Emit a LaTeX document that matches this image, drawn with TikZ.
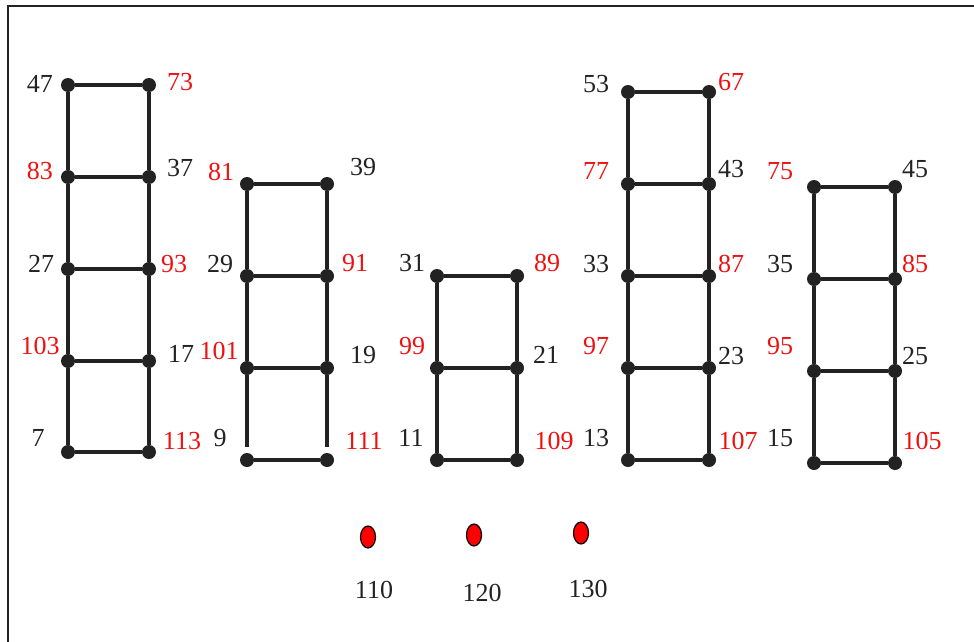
\documentclass[tikz,border=0pt]{standalone}
\usepackage{fontspec}
\setmainfont{Liberation Serif}
\usetikzlibrary{shapes.geometric}
\definecolor{ink}{HTML}{222222}
\definecolor{rtxt}{HTML}{EE1111}
\begin{document}
\begin{tikzpicture}[x=1pt,y=-1pt,
  dot/.style={circle,fill=ink,inner sep=0pt,minimum size=14pt},
  edge/.style={line width=3.2pt,draw=ink},
  lbl/.style={font=\fontsize{26}{26}\selectfont,text=ink,inner sep=0pt},
  rlbl/.style={lbl,text=rtxt},
  pt/.style={ellipse,draw=black,line width=1.2pt,fill=red,minimum width=15pt,minimum height=22pt,inner sep=0pt}]
\useasboundingbox (0,0) rectangle (974,642);
\draw[line width=2pt,ink] (8,642) -- (8,6) -- (974,6);

% ---------- ladder 1 ----------
\node[dot] (a1) at (68,85) {};  \node[dot] (b1) at (149,85) {};
\node[dot] (a2) at (68,177) {}; \node[dot] (b2) at (149,177) {};
\node[dot] (a3) at (68,269) {}; \node[dot] (b3) at (149,269) {};
\node[dot] (a4) at (68,361) {}; \node[dot] (b4) at (149,361) {};
\node[dot] (a5) at (68,452) {}; \node[dot] (b5) at (149,452) {};
\draw[edge] (a1) -- (a2) -- (a3) -- (a4) -- (a5);
\draw[edge] (b1) -- (b2) -- (b3) -- (b4) -- (b5);
\draw[edge] (a1) -- (b1); \draw[edge] (a2) -- (b2); \draw[edge] (a3) -- (b3);
\draw[edge] (a4) -- (b4); \draw[edge] (a5) -- (b5);
\node[lbl]  (t47)  at (40,84)  {47};
\node[rlbl] (t73)  at (180,82) {73};
\node[rlbl] (t83)  at (40,171) {83};
\node[lbl]  (t37)  at (180,168) {37};
\node[lbl]  (t27)  at (41,264) {27};
\node[rlbl] (t93)  at (174,264) {93};
\node[rlbl] (t103) at (40,346) {103};
\node[lbl]  (t17)  at (181,354) {17};
\node[lbl]  (t7)   at (38,438) {7};
\node[rlbl] (t113) at (182,441) {113};

% ---------- ladder 2 ----------
\node[dot] (c1) at (247,184) {}; \node[dot] (d1) at (327,184) {};
\node[dot] (c2) at (247,276) {}; \node[dot] (d2) at (327,276) {};
\node[dot] (c3) at (247,368) {}; \node[dot] (d3) at (327,368) {};
\node[dot] (c4) at (247,460) {}; \node[dot] (d4) at (327,460) {};
\coordinate (cg) at (247,447);
\coordinate (dg) at (327,447);
\draw[edge] (c1) -- (c2) -- (c3) -- (cg);
\draw[edge] (d1) -- (d2) -- (d3) -- (dg);
\draw[edge] (c1) -- (d1); \draw[edge] (c2) -- (d2);
\draw[edge] (c3) -- (d3); \draw[edge] (c4) -- (d4);
\node[rlbl] (t81)  at (221,172) {81};
\node[lbl]  (t39)  at (363,167) {39};
\node[lbl]  (t29)  at (220,264) {29};
\node[rlbl] (t91)  at (355,263) {91};
\node[rlbl] (t101) at (219,351) {101};
\node[lbl]  (t19)  at (363,355) {19};
\node[lbl]  (t9)   at (220,438) {9};
\node[rlbl] (t111) at (364,441) {111};

% ---------- ladder 3 ----------
\node[dot] (e1) at (437,276) {}; \node[dot] (f1) at (517,276) {};
\node[dot] (e2) at (437,368) {}; \node[dot] (f2) at (517,368) {};
\node[dot] (e3) at (437,460) {}; \node[dot] (f3) at (517,460) {};
\draw[edge] (e1) -- (e2) -- (e3);
\draw[edge] (f1) -- (f2) -- (f3);
\draw[edge] (e1) -- (f1); \draw[edge] (e2) -- (f2); \draw[edge] (e3) -- (f3);
\node[lbl]  (t31)  at (412,263) {31};
\node[rlbl] (t89)  at (547,263) {89};
\node[rlbl] (t99)  at (412,346) {99};
\node[lbl]  (t21)  at (546,355) {21};
\node[lbl]  (t11)  at (411,438) {11};
\node[rlbl] (t109) at (554,441) {109};

% ---------- ladder 4 ----------
\node[dot] (g1) at (628,92) {};  \node[dot] (h1) at (709,92) {};
\node[dot] (g2) at (628,184) {}; \node[dot] (h2) at (709,184) {};
\node[dot] (g3) at (628,276) {}; \node[dot] (h3) at (709,276) {};
\node[dot] (g4) at (628,368) {}; \node[dot] (h4) at (709,368) {};
\node[dot] (g5) at (628,460) {}; \node[dot] (h5) at (709,460) {};
\draw[edge] (g1) -- (g2) -- (g3) -- (g4) -- (g5);
\draw[edge] (h1) -- (h2) -- (h3) -- (h4) -- (h5);
\draw[edge] (g1) -- (h1); \draw[edge] (g2) -- (h2); \draw[edge] (g3) -- (h3);
\draw[edge] (g4) -- (h4); \draw[edge] (g5) -- (h5);
\node[lbl]  (t53)  at (596,84)  {53};
\node[rlbl] (t67)  at (731,82)  {67};
\node[rlbl] (t77)  at (596,171) {77};
\node[lbl]  (t43)  at (731,169) {43};
\node[lbl]  (t33)  at (596,264) {33};
\node[rlbl] (t87)  at (731,264) {87};
\node[rlbl] (t97)  at (596,346) {97};
\node[lbl]  (t23)  at (731,356) {23};
\node[lbl]  (t13)  at (596,438) {13};
\node[rlbl] (t107) at (738,441) {107};

% ---------- ladder 5 ----------
\node[dot] (k1) at (814,187) {}; \node[dot] (m1) at (895,187) {};
\node[dot] (k2) at (814,279) {}; \node[dot] (m2) at (895,279) {};
\node[dot] (k3) at (814,371) {}; \node[dot] (m3) at (895,371) {};
\node[dot] (k4) at (814,463) {}; \node[dot] (m4) at (895,463) {};
\draw[edge] (k1) -- (k2) -- (k3) -- (k4);
\draw[edge] (m1) -- (m2) -- (m3) -- (m4);
\draw[edge] (k1) -- (m1); \draw[edge] (k2) -- (m2);
\draw[edge] (k3) -- (m3); \draw[edge] (k4) -- (m4);
\node[rlbl] (t75)  at (780,171) {75};
\node[lbl]  (t45)  at (915,169) {45};
\node[lbl]  (t35)  at (780,264) {35};
\node[rlbl] (t85)  at (915,264) {85};
\node[rlbl] (t95)  at (780,346) {95};
\node[lbl]  (t25)  at (915,356) {25};
\node[lbl]  (t15)  at (780,438) {15};
\node[rlbl] (t105) at (922,441) {105};

% ---------- red points ----------
\node[pt] (p110) at (368,537) {};
\node[pt] (p120) at (474,535) {};
\node[pt] (p130) at (581,533) {};
\node[lbl] (t110) at (374,590) {110};
\node[lbl] (t120) at (482,593) {120};
\node[lbl] (t130) at (588,589) {130};
\end{tikzpicture}
\end{document}
